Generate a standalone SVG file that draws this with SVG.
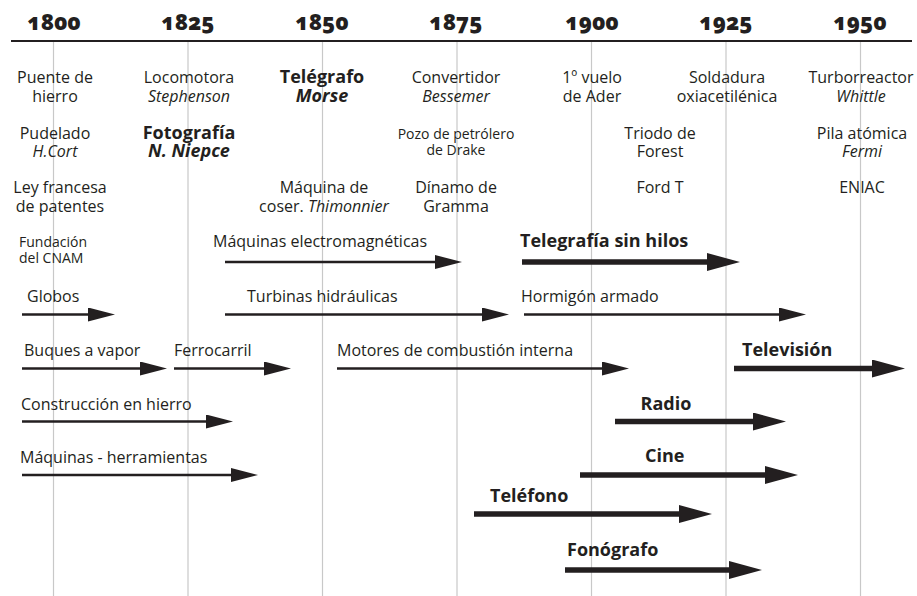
<svg xmlns="http://www.w3.org/2000/svg" width="917" height="596" viewBox="0 0 917 596">
<style>
.t{font-family:"Open Sans",Lato,"Liberation Sans",sans-serif;font-size:16px;fill:#231f20;text-anchor:middle}
.s{font-size:14px}
.l{text-anchor:start}
.b{font-weight:bold;font-size:18px}
.i{font-style:italic}
.yr{font-family:"Open Sans","Liberation Sans",sans-serif;font-weight:800;font-size:22px;fill:#231f20;text-anchor:middle;font-variant-numeric:oldstyle-nums;font-feature-settings:"onum" 1}
.grid{stroke:#c8c8c8;stroke-width:1.2}
.thin{stroke:#231f20;stroke-width:2.7;fill:none;marker-end:url(#hthin)}
.thick{stroke:#231f20;stroke-width:5.5;fill:none;marker-end:url(#hthick)}
</style>
<defs>
<marker id="hthin" markerUnits="userSpaceOnUse" markerWidth="28" markerHeight="16" refX="2" refY="7" orient="auto" viewBox="0 0 28 16">
<path d="M0,0 L27,7 L0,14 z" fill="#231f20"/>
</marker>
<marker id="hthick" markerUnits="userSpaceOnUse" markerWidth="34" markerHeight="20" refX="2" refY="9" orient="auto" viewBox="0 0 34 20">
<path d="M0,0 L33,9 L0,18 z" fill="#231f20"/>
</marker>
</defs>
<rect width="917" height="596" fill="#fff"/>
<g id="axis">
<line class="grid" x1="53.5" y1="41" x2="53.5" y2="596"/>
<line class="grid" x1="188" y1="41" x2="188" y2="596"/>
<line class="grid" x1="322.5" y1="41" x2="322.5" y2="596"/>
<line class="grid" x1="457" y1="41" x2="457" y2="596"/>
<line class="grid" x1="591.5" y1="41" x2="591.5" y2="596"/>
<line class="grid" x1="726" y1="41" x2="726" y2="596"/>
<line class="grid" x1="860.5" y1="41" x2="860.5" y2="596"/>
<line x1="11" y1="41" x2="912" y2="41" stroke="#231f20" stroke-width="2.2"/>
<text class="yr" x="54" y="30">1800</text>
<text class="yr" x="188" y="30">1825</text>
<text class="yr" x="322" y="30">1850</text>
<text class="yr" x="456" y="30">1875</text>
<text class="yr" x="592" y="30">1900</text>
<text class="yr" x="726" y="30">1925</text>
<text class="yr" x="860" y="30">1950</text>
</g>
<g id="puente"><text class="t" x="55" y="83">Puente de<tspan x="55" dy="18.5">hierro</tspan></text></g>
<g id="locomotora"><text class="t" x="189" y="83">Locomotora<tspan class="i" x="189" dy="18.5">Stephenson</tspan></text></g>
<g id="telegrafo"><text class="t b" x="322" y="83">Telégrafo<tspan class="i" x="322" dy="18.5">Morse</tspan></text></g>
<g id="convertidor"><text class="t" x="456" y="83">Convertidor<tspan class="i" x="456" dy="18.5">Bessemer</tspan></text></g>
<g id="vuelo"><text class="t" x="592" y="83">1º vuelo<tspan x="592" dy="18.5">de Ader</tspan></text></g>
<g id="soldadura"><text class="t" x="727" y="83">Soldadura<tspan x="727" dy="18.5">oxiacetilénica</tspan></text></g>
<g id="turborreactor"><text class="t" x="861" y="83">Turborreactor<tspan class="i" x="861" dy="18.5">Whittle</tspan></text></g>
<g id="pudelado"><text class="t" x="55" y="138.5">Pudelado<tspan class="i" x="55" dy="18.5">H.Cort</tspan></text></g>
<g id="fotografia"><text class="t b" x="189" y="138.5">Fotografía<tspan class="i" x="189" dy="18.5">N. Niepce</tspan></text></g>
<g id="pozo"><text class="t s" x="456" y="138.5">Pozo de petrólero<tspan x="456" dy="16.5">de Drake</tspan></text></g>
<g id="triodo"><text class="t" x="660" y="138.5">Triodo de<tspan x="660" dy="18.5">Forest</tspan></text></g>
<g id="pila"><text class="t" x="862" y="138.5">Pila atómica<tspan class="i" x="862" dy="18.5">Fermi</tspan></text></g>
<g id="ley"><text class="t" x="60" y="193">Ley francesa<tspan x="60" dy="19">de patentes</tspan></text></g>
<g id="maquina-coser"><text class="t" x="324" y="193">Máquina de<tspan x="324" dy="19">coser. </tspan><tspan class="i">Thimonnier</tspan></text></g>
<g id="dinamo"><text class="t" x="456" y="193">Dínamo de<tspan x="456" dy="19">Gramma</tspan></text></g>
<g id="ford"><text class="t" x="660" y="193">Ford T</text></g>
<g id="eniac"><text class="t" x="862" y="193">ENIAC</text></g>
<g id="cnam"><text class="t s l" x="19" y="247">Fundación<tspan x="19" dy="16">del CNAM</tspan></text></g>
<g id="lbl-electro"><text class="t l" x="213" y="247">Máquinas electromagnéticas</text></g>
<g id="lbl-telegrafia"><text class="t b l" x="520" y="247">Telegrafía sin hilos</text></g>
<g id="lbl-globos"><text class="t l" x="27" y="302">Globos</text></g>
<g id="lbl-turbinas"><text class="t l" x="247" y="302">Turbinas hidráulicas</text></g>
<g id="lbl-hormigon"><text class="t l" x="521" y="302">Hormigón armado</text></g>
<g id="lbl-buques"><text class="t l" x="24" y="356">Buques a vapor</text></g>
<g id="lbl-ferrocarril"><text class="t l" x="174" y="356">Ferrocarril</text></g>
<g id="lbl-motores"><text class="t l" x="337" y="356">Motores de combustión interna</text></g>
<g id="lbl-television"><text class="t b l" x="742" y="356">Televisión</text></g>
<g id="lbl-construccion"><text class="t l" x="21" y="410">Construcción en hierro</text></g>
<g id="lbl-radio"><text class="t b" x="666" y="410">Radio</text></g>
<g id="lbl-maquinas"><text class="t l" x="20" y="463">Máquinas - herramientas</text></g>
<g id="lbl-cine"><text class="t b l" x="645" y="462">Cine</text></g>
<g id="lbl-telefono"><text class="t b l" x="490" y="502">Teléfono</text></g>
<g id="lbl-fonografo"><text class="t b l" x="567" y="556">Fonógrafo</text></g>
<g id="connectors">
<line class="thin" x1="225" y1="262" x2="437" y2="262"/>
<line class="thick" x1="522" y1="262" x2="709" y2="262"/>
<line class="thin" x1="22" y1="314.5" x2="90" y2="314.5"/>
<line class="thin" x1="225" y1="314.5" x2="484" y2="314.5"/>
<line class="thin" x1="524" y1="314.5" x2="781" y2="314.5"/>
<line class="thin" x1="22" y1="368.5" x2="142" y2="368.5"/>
<line class="thin" x1="174" y1="368.5" x2="266" y2="368.5"/>
<line class="thin" x1="337" y1="368.5" x2="604" y2="368.5"/>
<line class="thick" x1="734" y1="368.5" x2="874" y2="368.5"/>
<line class="thin" x1="22" y1="421.5" x2="208" y2="421.5"/>
<line class="thick" x1="615" y1="421.5" x2="755" y2="421.5"/>
<line class="thin" x1="22" y1="475" x2="233" y2="475"/>
<line class="thick" x1="580" y1="475" x2="767" y2="475"/>
<line class="thick" x1="474" y1="514" x2="681" y2="514"/>
<line class="thick" x1="565" y1="570" x2="731" y2="570"/>
</g>
</svg>
